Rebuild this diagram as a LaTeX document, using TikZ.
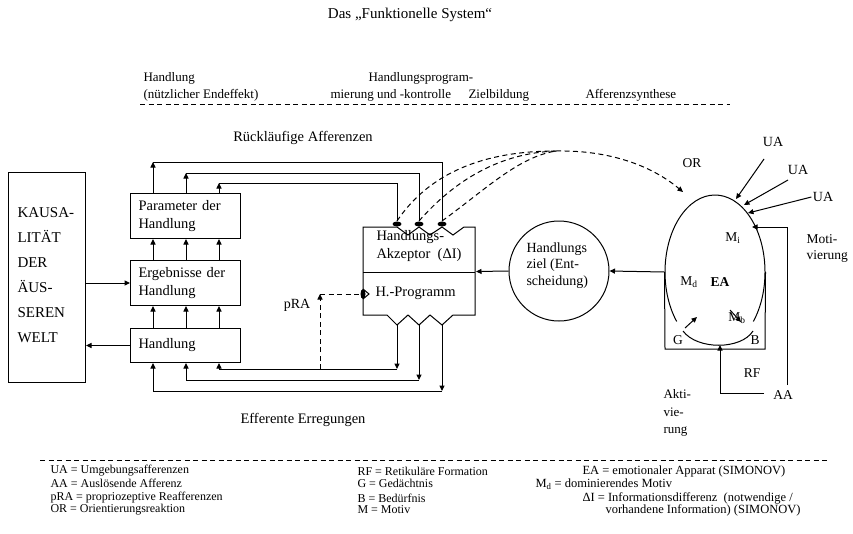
\documentclass[tikz,border=0pt]{standalone}
\usepackage{fontspec}
\setmainfont{Liberation Serif}
\usetikzlibrary{arrows.meta,shapes.geometric}
\begin{document}
\begin{tikzpicture}[x=1pt,y=-1pt,line width=1pt,
  >={Triangle[length=5.5pt,width=5pt]},
  box/.style={draw,rectangle,minimum width=110pt,text width=94pt,inner xsep=8pt,align=left,font=\fontsize{14.5}{17.5}\selectfont,anchor=north west},
  txt/.style={inner sep=0pt,font=\fontsize{13}{15}\selectfont},
  lab/.style={inner sep=0pt,font=\fontsize{13.5}{15}\selectfont},
  big/.style={inner sep=0pt,font=\fontsize{14.5}{17.5}\selectfont},
  leg/.style={inner sep=0pt,anchor=west,font=\fontsize{12}{13}\selectfont},
  legb/.style={inner sep=0pt,anchor=west,font=\fontsize{12.5}{13}\selectfont},
  syn/.style={ellipse,fill,inner sep=0pt,minimum width=9pt,minimum height=5pt},
  synv/.style={ellipse,fill,inner sep=0pt,minimum width=5pt,minimum height=10pt},
  dsh/.style={dash pattern=on 5pt off 3.5pt}]

\fill[white] (0,0) rectangle (853,533);
\useasboundingbox (0,0) rectangle (853,533);

% title and headers
\node[lab,font=\fontsize{15}{17}\selectfont] (title) at (410,15) {Das „Funktionelle System“};
\node[txt,anchor=west] (h1) at (143,78) {Handlung};
\node[txt,anchor=west] (h1b) at (143,95) {(nützlicher Endeffekt)};
\node[txt,anchor=west] (h2) at (368,78) {Handlungsprogram-};
\node[txt,anchor=west] (h2b) at (330,95) {mierung und -kontrolle};
\node[txt,anchor=west] (h3) at (468,95) {Zielbildung};
\node[txt,anchor=west] (h4) at (585,95) {Afferenzsynthese};
\coordinate (dl1) at (140,104);
\coordinate (dl2) at (730,104);
\draw[dsh] (dl1) -- (dl2);

% left column
\node[draw,minimum width=77pt,minimum height=210pt,anchor=north west,inner sep=0pt] (welt) at (8,172) {};
\node[big,align=left,anchor=west,font=\fontsize{15}{25}\selectfont] (weltt) at (17,275) {KAUSA-\\LITÄT\\DER\\ÄUS-\\SEREN\\WELT};

\node[box,minimum height=45pt] (param) at (130,193) {Parameter der\\Handlung};
\node[box,minimum height=45pt] (ergeb) at (130,260) {Ergebnisse der\\Handlung};
\node[box,minimum height=34pt] (hand) at (130,328) {Handlung};

\draw[->] (welt.east |- ergeb.west) -- (ergeb.west);
\draw[->] (hand.west) -- (welt.east |- hand.west);

\foreach \xx in {153,186,219}{
  \draw[->] (ergeb.north -| \xx,0) -- (param.south -| \xx,0);
  \draw[->] (hand.north -| \xx,0) -- (ergeb.south -| \xx,0);
}

% acceptor
\node[minimum width=112pt,minimum height=88pt,anchor=north west,inner sep=0pt] (akz) at (363,227) {};
\draw (363,227) -- (397,227) -- (408,235) -- (419,227) -- (430,235) -- (442,227) -- (453,235) -- (464,227) -- (475,227)
  -- (475,315) -- (453,315) -- (442,325) -- (430,315) -- (419,325) -- (408,315) -- (397,325) -- (387,315) -- (363,315)
  -- (363,299) -- (369,294) -- (363,289) -- cycle;
\draw (363,272) -- (475,272);
\node[big,align=left,anchor=north west] (akzt) at (376,230) {Handlungs-\\Akzeptor\ \ (ΔI)};
\node[big,anchor=west] (prog) at (375,293) {H.-Programm};

\node[syn] (s1) at (397,224) {};
\node[syn] (s2) at (419,224) {};
\node[syn] (s3) at (442,224) {};
\node[synv] (s4) at (363,294) {};

\coordinate (v1) at (397,325);
\coordinate (v2) at (419,325);
\coordinate (v3) at (442,325);

% Rueckläufige Afferenzen
\node[lab,font=\fontsize{14.5}{16}\selectfont] (rueck) at (303,138) {Rückläufige Afferenzen};
\coordinate (r1) at (153,162);
\coordinate (r2) at (186,173);
\coordinate (r3) at (219,183);
\draw[->] (param.north -| r1) -- (r1);
\draw[->] (param.north -| r2) -- (r2);
\draw[->] (param.north -| r3) -- (r3);
\draw (r1) -- (r1 -| s3) -- (s3.north);
\draw (r2) -- (r2 -| s2) -- (s2.north);
\draw (r3) -- (r3 -| s1) -- (s1.north);

% efferente Erregungen
\coordinate (e1) at (397,369);
\coordinate (e2) at (419,380);
\coordinate (e3) at (442,391);
\draw[->] (v1) -- (e1);
\draw[->] (v2) -- (e2);
\draw[->] (v3) -- (e3);
\draw[->] (e1) -- (e1 -| 219,0) -- (hand.south -| 219,0);
\draw[->] (e2) -- (e2 -| 186,0) -- (hand.south -| 186,0);
\draw[->] (e3) -- (e3 -| 153,0) -- (hand.south -| 153,0);
\node[lab,font=\fontsize{14.5}{16}\selectfont] (effer) at (303,420) {Efferente Erregungen};

% pRA
\coordinate (p0) at (320,369);
\coordinate (p1) at (320,294);
\draw[dsh,->] (p0) -- (p1);
\draw[dsh] (p1) -- (s4.west);
\node[lab,font=\fontsize{14}{16}\selectfont] (pra) at (297,305) {pRA};

% goal circle
\node[draw,circle,minimum size=100pt,inner sep=0pt] (ziel) at (559,271) {};
\node[big,align=left,anchor=north west,font=\fontsize{14}{16.5}\selectfont] (zielt) at (526,242) {Handlungs\\ziel (Ent-\\scheidung)};
\draw[->] (ziel.west) -- (akz.east);

% oval (afferent synthesis)
\node[ellipse,minimum width=100pt,minimum height=154pt,inner sep=0pt] (oval) at (715,272) {};
\draw (676.7,321.5) arc[start angle=140,end angle=400,x radius=50,y radius=77];
\coordinate (ab1) at (683,331);
\coordinate (ab2) at (753,331);
\draw (ab1) .. controls (697,350) and (741,350) .. (ab2);
\draw (oval.west) -- (665,349) -- (765,349) -- (oval.east);
\draw[->] (oval.west) -- (ziel.east);

% dashed curves (OR)
\coordinate (pk) at (556,151);
\coordinate (ortip) at (683,192);
\draw[dsh] (s1.north) .. controls (430,172) and (485,151) .. (pk);
\draw[dsh] (s2.north) .. controls (455,180) and (500,153) .. (pk);
\draw[dsh] (s3.north) .. controls (485,190) and (518,157) .. (pk);
\draw[dsh,->] (pk) .. controls (610,150) and (652,166) .. (ortip);
\node[lab] (or) at (692,163) {OR};

% UA
\node[lab,font=\fontsize{14}{16}\selectfont] (ua1) at (773,142) {UA};
\node[lab,font=\fontsize{14}{16}\selectfont] (ua2) at (798,170) {UA};
\node[lab,font=\fontsize{14}{16}\selectfont] (ua3) at (823,197) {UA};
\coordinate (u1s) at (764,159);
\coordinate (u1t) at (736,199);
\coordinate (u2s) at (788,180);
\coordinate (u2t) at (744,205);
\coordinate (u3t) at (748,213);
\draw[->] (u1s) -- (u1t);
\draw[->] (u2s) -- (u2t);
\draw[->] ([xshift=-1pt]ua3.west) -- (u3t);

% AA, RF
\node[lab] (aa) at (783,395) {AA};
\coordinate (aaleft) at (764,393);
\coordinate (arcbot) at (720,345);
\draw[->] (aaleft) -- (arcbot |- aaleft) -- (arcbot);
\coordinate (aatop) at (787,385);
\coordinate (mtip) at (752,227);
\draw[->] (aatop) -- (aatop |- mtip) -- (mtip);
\node[lab] (rf) at (752,373) {RF};
\node[lab,align=left,anchor=north west,font=\fontsize{13.5}{16}\selectfont] (moti) at (806,234) {Moti-\\vierung};
\node[lab,align=left,anchor=north west,font=\fontsize{13}{17.5}\selectfont] (akti) at (663,389) {Akti-\\vie-\\rung};

% inside oval
\node[lab] (mi) at (733,238) {M\textsubscript{i}};
\node[lab] (md) at (689,282) {M\textsubscript{d}};
\node[lab,font=\bfseries\fontsize{13.5}{15}\selectfont] (ea) at (720,282) {EA};
\node[lab] (mb) at (737,318) {M\textsubscript{b}};
\node[lab] (g) at (678,340) {G};
\node[lab] (b) at (755,340) {B};
\coordinate (ga) at (685,328);
\coordinate (gb) at (697,317);
\draw[->] (ga) -- (gb);
\coordinate (ma) at (730,310);
\coordinate (mbb) at (741,322);
\draw[->] (ma) -- (mbb);

% legend
\coordinate (ll1) at (40,460);
\coordinate (ll2) at (828,460);
\draw[dsh] (ll1) -- (ll2);
\node[leg] (l1) at (50,471) {UA = Umgebungsafferenzen};
\node[leg] (l2) at (50,483) {AA = Auslösende Afferenz};
\node[leg] (l3) at (50,498) {pRA = propriozeptive Reafferenzen};
\node[leg] (l4) at (50,510) {OR = Orientierungsreaktion};
\node[leg] (l5) at (357,471) {RF = Retikuläre Formation};
\node[leg] (l6) at (357,483) {G = Gedächtnis};
\node[leg] (l7) at (357,498) {B = Bedürfnis};
\node[leg] (l8) at (357,510) {M = Motiv};
\node[legb] (l9) at (582,471) {EA = emotionaler Apparat (SIMONOV)};
\node[legb] (l10) at (535,484) {M\textsubscript{d} = dominierendes Motiv};
\node[legb] (l11) at (582,498) {ΔI = Informationsdifferenz\ \ (notwendige /};
\node[legb] (l12) at (605,510) {vorhandene Information) (SIMONOV)};
\end{tikzpicture}
\end{document}
